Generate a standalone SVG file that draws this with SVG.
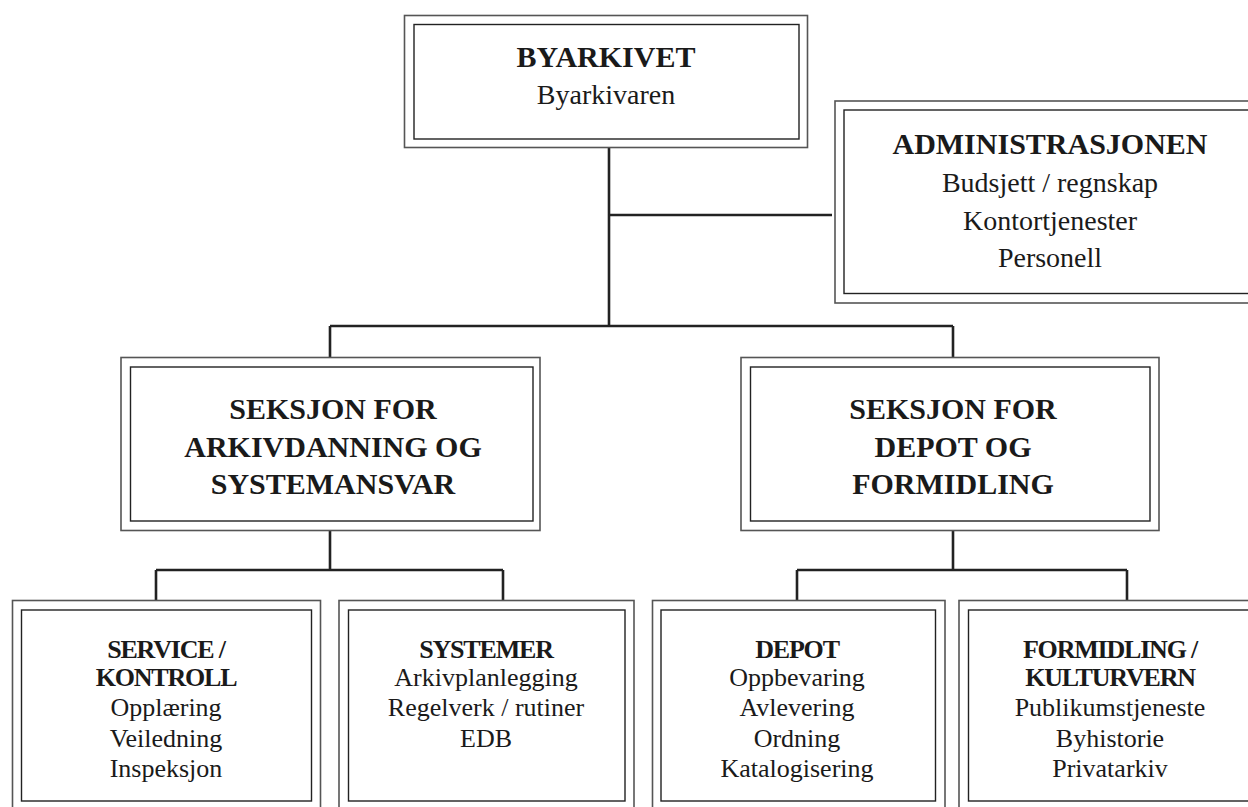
<svg xmlns="http://www.w3.org/2000/svg" width="1248" height="807" viewBox="0 0 1248 807">
<style>
.o{fill:none;stroke:#555;stroke-width:1.6}
.i{fill:none;stroke:#222;stroke-width:1.4}
.c{fill:none;stroke:#222;stroke-width:2.6}
text{font-family:"Liberation Serif","Times New Roman",serif;fill:#1a1a1a;text-anchor:middle}
.b{font-weight:bold}
.t{font-size:30px}
.r{font-size:28px}
.sb{font-size:26px;letter-spacing:-1.2px}
.sr{font-size:26px}
</style>
<rect width="1248" height="807" fill="#fff"/>
<g id="connectors">
<path class="c" d="M609 147V326M609 215H832M330 326H953M330 326V357M953 326V357"/>
<path class="c" d="M330 531V570M156 570H503M156 570V600M503 570V600"/>
<path class="c" d="M953 531V570M797 570H1127M797 570V600M1127 570V600"/>
</g>
<g id="byarkivet">
<rect class="o" x="404.5" y="15.5" width="403" height="132"/>
<rect class="i" x="414" y="24.5" width="385" height="114.5"/>
<text class="b t" x="606" y="67">BYARKIVET</text>
<text class="r" x="606" y="104">Byarkivaren</text>
</g>
<g id="administrasjonen">
<rect class="o" x="835" y="101" width="430" height="202"/>
<rect class="i" x="844" y="110" width="412" height="183.5"/>
<text class="b t" x="1050" y="154">ADMINISTRASJONEN</text>
<text class="r" x="1050" y="192">Budsjett / regnskap</text>
<text class="r" x="1050" y="230">Kontortjenester</text>
<text class="r" x="1050" y="267">Personell</text>
</g>
<g id="seksjon-arkivdanning">
<rect class="o" x="121" y="357.5" width="419" height="173"/>
<rect class="i" x="130.5" y="367" width="402.5" height="154"/>
<text class="b t" x="333" y="419">SEKSJON FOR</text>
<text class="b t" x="333" y="457">ARKIVDANNING OG</text>
<text class="b t" x="333" y="494">SYSTEMANSVAR</text>
</g>
<g id="seksjon-depot">
<rect class="o" x="741" y="357.5" width="418" height="173"/>
<rect class="i" x="750.5" y="367" width="399.5" height="154"/>
<text class="b t" x="953" y="419">SEKSJON FOR</text>
<text class="b t" x="953" y="457">DEPOT OG</text>
<text class="b t" x="953" y="494">FORMIDLING</text>
</g>
<g id="service-kontroll">
<rect class="o" x="12.5" y="600.5" width="308" height="212"/>
<rect class="i" x="21.5" y="610" width="290" height="191"/>
<text class="b sb" x="166" y="658">SERVICE /</text>
<text class="b sb" x="166" y="686">KONTROLL</text>
<text class="sr" x="166" y="716">Opplæring</text>
<text class="sr" x="166" y="747">Veiledning</text>
<text class="sr" x="166" y="777">Inspeksjon</text>
</g>
<g id="systemer">
<rect class="o" x="339" y="600.5" width="295" height="212"/>
<rect class="i" x="348.5" y="610" width="276.5" height="191"/>
<text class="b sb" x="486" y="658">SYSTEMER</text>
<text class="sr" x="486" y="686">Arkivplanlegging</text>
<text class="sr" x="486" y="716">Regelverk / rutiner</text>
<text class="sr" x="486" y="747">EDB</text>
</g>
<g id="depot">
<rect class="o" x="652.5" y="600.5" width="292.5" height="212"/>
<rect class="i" x="661" y="610" width="274.5" height="191"/>
<text class="b sb" x="797" y="658">DEPOT</text>
<text class="sr" x="797" y="686">Oppbevaring</text>
<text class="sr" x="797" y="716">Avlevering</text>
<text class="sr" x="797" y="747">Ordning</text>
<text class="sr" x="797" y="777">Katalogisering</text>
</g>
<g id="formidling">
<rect class="o" x="959" y="600.5" width="300" height="212"/>
<rect class="i" x="968.5" y="610" width="282" height="191"/>
<text class="b sb" x="1110" y="658">FORMIDLING /</text>
<text class="b sb" x="1110" y="686">KULTURVERN</text>
<text class="sr" x="1110" y="716">Publikumstjeneste</text>
<text class="sr" x="1110" y="747">Byhistorie</text>
<text class="sr" x="1110" y="777">Privatarkiv</text>
</g>
</svg>
